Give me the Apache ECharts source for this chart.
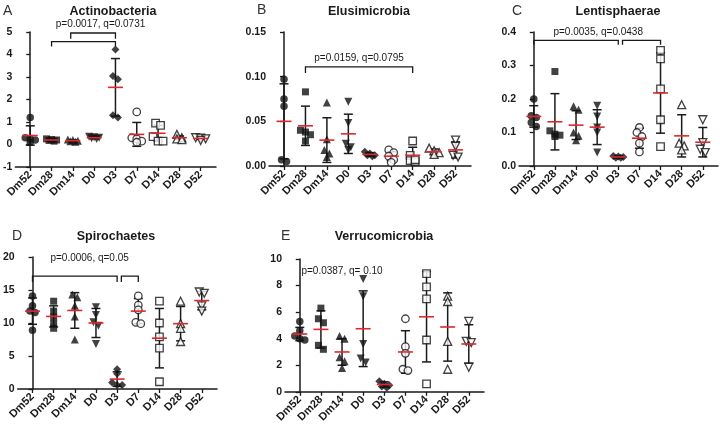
<!DOCTYPE html>
<html><head><meta charset="utf-8">
<script src="https://cdn.jsdelivr.net/npm/echarts@6/dist/echarts.min.js"></script>
<style>html,body{margin:0;padding:0;background:#fff}#c{width:720px;height:425px}</style>
</head><body><div id="c"></div>
<script>
// ---------- DATA ----------
const categories = ['Dm52','Dm28','Dm14','D0','D3','D7','D14','D28','D52'];

// A: Actinobacteria
const actinoPoints = [
  [1.2, 0.3, 0.25, 0.2, 0.1],
  [0.25, 0.22, 0.2, 0.18, 0.15],
  [0.22, 0.2, 0.17, 0.15, 0.12],
  [0.35, 0.32, 0.3, 0.28, 0.25],
  [4.22, 3.05, 2.9, 1.2, 1.3],
  [1.45, 0.3, 0.25, 0.15, 0.1],
  [0.95, 0.85, 0.35, 0.15, 0.15],
  [0.45, 0.3, 0.25, 0.22],
  [0.3, 0.28, 0.25, 0.18]
];
const actinoMean = [0.4, 0.2, 0.17, 0.3, 2.54, 0.45, 0.5, 0.3, 0.27];
const actinoSD   = [0.43, 0.04, 0.03, 0.04, 1.28, 0.53, 0.35, 0.08, 0.04];
const actinoYTicks = [-1, 0, 1, 2, 3, 4, 5];

// B: Elusimicrobia
const elusiPoints = [
  [0.097, 0.075, 0.067, 0.005, 0.007],
  [0.083, 0.04, 0.038, 0.035, 0.028],
  [0.071, 0.03, 0.018, 0.01, 0.014],
  [0.072, 0.048, 0.025, 0.021, 0.018],
  [0.016, 0.014, 0.012, 0.011, 0.012],
  [0.018, 0.015, 0.011, 0.007, 0.004],
  [0.028, 0.012, 0.006, 0.005, 0.007],
  [0.02, 0.017, 0.015, 0.013],
  [0.029, 0.022, 0.012, 0.01]
];
const elusiMean = [0.050, 0.045, 0.029, 0.036, 0.013, 0.011, 0.012, 0.016, 0.018];
const elusiSD   = [0.042, 0.022, 0.025, 0.022, 0.002, 0.005, 0.009, 0.003, 0.009];
const elusiYTicks = [0, 0.05, 0.10, 0.15];

// C: Lentisphaerae
const lentiPoints = [
  [0.2, 0.15, 0.145, 0.13, 0.118],
  [0.282, 0.105, 0.095, 0.092, 0.088],
  [0.178, 0.168, 0.1, 0.09, 0.077],
  [0.18, 0.148, 0.115, 0.1, 0.04],
  [0.03, 0.028, 0.027, 0.025, 0.025],
  [0.115, 0.1, 0.088, 0.068, 0.042],
  [0.345, 0.32, 0.23, 0.138, 0.058],
  [0.183, 0.068, 0.06, 0.048],
  [0.138, 0.07, 0.05, 0.04]
];
const lentiMean = [0.148, 0.132, 0.122, 0.116, 0.027, 0.083, 0.218, 0.09, 0.071];
const lentiSD   = [0.032, 0.084, 0.043, 0.052, 0.003, 0.03, 0.12, 0.063, 0.044];
const lentiYTicks = [0, 0.1, 0.2, 0.3, 0.4];

// D: Spirochaetes
const spiroPoints = [
  [14.1, 12.6, 11.8, 11.6, 8.9],
  [13.3, 11.8, 10.9, 9.9, 9.2],
  [14.3, 13.9, 12.6, 11.0, 7.5],
  [12.4, 11.2, 10.1, 9.6, 6.8],
  [3.0, 2.3, 1.0, 0.6, 0.6],
  [14.1, 12.7, 12.0, 10.1, 9.9],
  [13.3, 10.0, 7.9, 6.2, 1.1],
  [13.3, 9.9, 9.2, 7.2],
  [14.7, 14.5, 12.6, 11.8]
];
const spiroMean = [11.8, 11.0, 11.9, 10.0, 1.5, 11.8, 7.7, 9.9, 13.4];
const spiroSD   = [2.0, 1.6, 2.7, 2.2, 1.1, 1.9, 4.5, 2.6, 1.4];
const spiroYTicks = [0, 5, 10, 15, 20];

// E: Verrucomicrobia
const verruPoints = [
  [5.3, 4.6, 4.2, 4.0, 3.9],
  [6.3, 5.5, 5.2, 3.5, 3.2],
  [4.2, 4.0, 2.6, 2.3, 1.8],
  [8.5, 7.2, 3.6, 2.5, 2.2],
  [0.8, 0.6, 0.5, 0.4, 0.3],
  [5.5, 3.4, 2.9, 1.7, 1.6],
  [8.9, 7.9, 7.0, 3.9, 0.6],
  [7.2, 6.8, 3.8, 1.7],
  [5.3, 3.8, 3.7, 1.85]
];
const verruMean = [4.35, 4.7, 3.0, 4.75, 0.55, 3.0, 5.65, 4.88, 3.6];
const verruSD   = [0.5, 1.4, 1.0, 2.85, 0.2, 1.6, 3.4, 2.57, 1.45];
const verruYTicks = [0, 2, 4, 6, 8, 10];

// significance annotations: [fromCategory, toCategory, level, tickEnd]
const actinoBrackets = [[1, 4, 4.57, 4.36], [1.9, 4, 4.955, 4.70]];
const elusiBrackets  = [[1, 6, 0.111, 0.104]];
const lentiBrackets  = [[0, 4, 0.375, 0.362], [4.2, 6, 0.375, 0.362]];
const spiroBrackets  = [[0, 4, 17.1, 16.2], [4.2, 5, 17.1, 16.2]];
const verruBrackets  = [];
const actinoNote = 'p=0.0017, q=0.0731';
const elusiNote  = 'p=0.0159, q=0.0795';
const lentiNote  = 'p=0.0035, q=0.0438';
const spiroNote  = 'p=0.0006, q=0.05';
const verruNote  = 'p=0.0387, q= 0.10';

// ---------- LAYOUT / STYLE ----------
const FONT = '"Liberation Sans", Arial, Helvetica, sans-serif';
const INK = '#1a1a1a';
const RED = '#e3262b';
const XMIN = -0.7, XMAX = 8.72;
const shapes   = ['circle','rect','triangle','triangle','diamond','circle','rect','triangle','triangle'];
const rotates  = [0,0,0,180,0,0,0,0,180];
const filled   = [true,true,true,true,true,false,false,false,false];
const sizes    = [7.5,7,8,8,8,7.5,7.5,8,8];

const panels = [
  {title:'Actinobacteria', letter:'A', pts:actinoPoints, mean:actinoMean, sd:actinoSD, ticks:actinoYTicks, dec:0,
   brackets:actinoBrackets, note:actinoNote, notePos:[3.3, 5.36],
   L:{left:13, top:32, w:203, h:135, tx:113, ty:5, lx:3, ly:4}},
  {title:'Elusimicrobia', letter:'B', pts:elusiPoints, mean:elusiMean, sd:elusiSD, ticks:elusiYTicks, dec:2,
   brackets:elusiBrackets, note:elusiNote, notePos:[3.5, 0.1205],
   L:{left:269, top:32, w:202, h:134, tx:369, ty:5, lx:257, ly:3}},
  {title:'Lentisphaerae', letter:'C', pts:lentiPoints, mean:lentiMean, sd:lentiSD, ticks:lentiYTicks, dec:1,
   brackets:lentiBrackets, note:lentiNote, notePos:[3.05, 0.398],
   L:{left:519, top:32, w:199, h:134, tx:618, ty:5, lx:512, ly:4}},
  {title:'Spirochaetes', letter:'D', pts:spiroPoints, mean:spiroMean, sd:spiroSD, ticks:spiroYTicks, dec:0,
   brackets:spiroBrackets, note:spiroNote, notePos:[2.7, 19.8],
   L:{left:13, top:257, w:204, h:132, tx:116, ty:230, lx:12, ly:229}},
  {title:'Verrucomicrobia', letter:'E', pts:verruPoints, mean:verruMean, sd:verruSD, ticks:verruYTicks, dec:0,
   brackets:verruBrackets, note:verruNote, notePos:[2.0, 9.1],
   L:{left:285, top:259, w:199, h:133, tx:384, ty:230, lx:281, ly:229}}
];

// row-based spreading of near-coincident points (pixel offsets)
function swarm(vals, pxPerUnit){
  const order = vals.map((v,i)=>i).sort((a,b)=>vals[b]-vals[a]);
  const rowH = 4.5, maxPerRow = 3, spacing = 5;
  const rows = [];
  order.forEach(i=>{
    const y = vals[i]*pxPerUnit;
    const r = rows[rows.length-1];
    if (r && Math.abs(r.y - y) < rowH && r.items.length < maxPerRow) r.items.push(i);
    else rows.push({y:y, items:[i]});
  });
  const out = new Array(vals.length).fill(0);
  rows.forEach(r=>{
    const n = r.items.length;
    r.items.forEach((i,j)=>{ out[i] = (j-(n-1)/2)*spacing; });
  });
  return out;
}

const chart = echarts.init(document.getElementById('c'));
const grids=[], xAxes=[], yAxes=[], series=[], titles=[];
const idx = categories.map((c,i)=>i);

panels.forEach((p,k)=>{
  const L = p.L;
  const ymin = p.ticks[0], ymax = p.ticks[p.ticks.length-1];
  const interval = p.ticks[1]-p.ticks[0];
  grids.push({left:L.left, top:L.top, width:L.w, height:L.h});
  xAxes.push({gridIndex:k, type:'value', min:XMIN, max:XMAX,
    axisLine:{show:true, onZero:false, lineStyle:{color:INK, width:1.5}},
    axisTick:{show:true, length:4, customValues:idx, lineStyle:{color:INK, width:1.3}},
    axisLabel:{customValues:idx, formatter:v=>categories[Math.round(v)], rotate:45, margin:6,
      fontSize:11, fontWeight:'bold', color:INK, fontFamily:FONT, hideOverlap:false},
    splitLine:{show:false}});
  yAxes.push({gridIndex:k, type:'value', min:ymin, max:ymax, interval:interval,
    axisLine:{show:true, lineStyle:{color:INK, width:1.5}},
    axisTick:{show:true, length:4, lineStyle:{color:INK, width:1.3}},
    axisLabel:{formatter:v=>v.toFixed(p.dec), margin:3, fontSize:10.5, fontWeight:'bold', color:INK, fontFamily:FONT,
      showMinLabel:true, showMaxLabel:true, hideOverlap:false},
    splitLine:{show:false}});
  titles.push({text:p.title, left:L.tx, top:L.ty, textAlign:'center', padding:0,
    textStyle:{fontSize:12.5, fontWeight:'bold', color:INK, fontFamily:FONT}});
  titles.push({text:p.letter, left:L.lx, top:L.ly, padding:0,
    textStyle:{fontSize:14, fontWeight:'normal', color:'#333', fontFamily:FONT}});

  // error bars
  series.push({type:'custom', xAxisIndex:k, yAxisIndex:k, z:2, silent:true,
    data:p.mean.map((m,i)=>[i,m,p.sd[i]]),
    renderItem:(params,api)=>{
      const x=api.value(0), m=api.value(1), s=api.value(2);
      const t=api.coord([x,m+s]), b=api.coord([x,m-s]);
      const cw=4.5, st={stroke:INK, lineWidth:1.5};
      return {type:'group', children:[
        {type:'line', shape:{x1:t[0],y1:t[1],x2:b[0],y2:b[1]}, style:st},
        {type:'line', shape:{x1:t[0]-cw,y1:t[1],x2:t[0]+cw,y2:t[1]}, style:st},
        {type:'line', shape:{x1:b[0]-cw,y1:b[1],x2:b[0]+cw,y2:b[1]}, style:st}
      ]};
    }});

  // points
  const ppu = L.h/(ymax-ymin);
  const pdata = [];
  p.pts.forEach((vals,i)=>{
    const offs = swarm(vals, ppu);
    vals.forEach((v,j)=>{
      pdata.push({value:[i,v], symbol:shapes[i], symbolSize:sizes[i], symbolRotate:rotates[i],
        symbolOffset:[offs[j],0],
        itemStyle:{color: filled[i]?'#111':'#fff', borderColor:'#111', borderWidth: filled[i]?0:1.3}});
    });
  });
  series.push({type:'scatter', xAxisIndex:k, yAxisIndex:k, z:3, silent:true, data:pdata});

  // means
  series.push({type:'custom', xAxisIndex:k, yAxisIndex:k, z:4, silent:true,
    data:p.mean.map((m,i)=>[i,m]),
    renderItem:(params,api)=>{
      const c=api.coord([api.value(0),api.value(1)]);
      return {type:'line', shape:{x1:c[0]-7.5,y1:c[1],x2:c[0]+7.5,y2:c[1]}, style:{stroke:RED, lineWidth:1.6}};
    }});

  // brackets
  if (p.brackets.length){
    series.push({type:'custom', xAxisIndex:k, yAxisIndex:k, z:5, silent:true,
      data:p.brackets,
      encode:{x:[0,1], y:[2,3]},
      renderItem:(params,api)=>{
        const x1=api.value(0), x2=api.value(1), y=api.value(2), yt=api.value(3);
        const a=api.coord([x1,yt]), b=api.coord([x1,y]), c=api.coord([x2,y]), d=api.coord([x2,yt]);
        return {type:'polyline', shape:{points:[a,b,c,d]}, style:{stroke:INK, lineWidth:1.3, fill:null}};
      }});
  }
  // note
  series.push({type:'custom', xAxisIndex:k, yAxisIndex:k, z:5, silent:true,
    data:[p.notePos],
    renderItem:(params,api)=>{
      const c=api.coord([api.value(0),api.value(1)]);
      return {type:'text', x:c[0], y:c[1], style:{text:p.note, fontSize:10, fontFamily:FONT, fill:INK,
        align:'center', verticalAlign:'middle'}};
    }});
});

chart.setOption({animation:false, backgroundColor:'#fff', title:titles, grid:grids,
  xAxis:xAxes, yAxis:yAxes, series:series});
</script></body></html>
